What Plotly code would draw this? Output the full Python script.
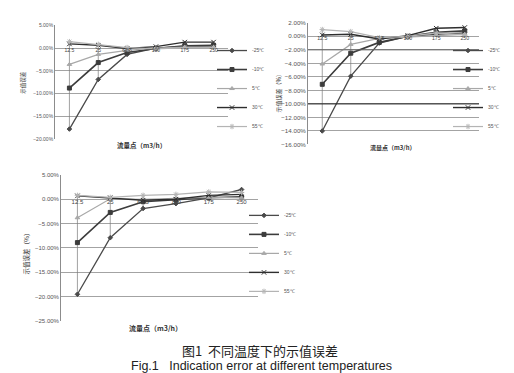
import numpy as np
import plotly.graph_objects as go

W, H = 514, 373

categories = ["12.5", "25", "62.5", "100", "175", "250"]
series_names = ["-25℃", "-10℃", "5℃", "30℃", "55℃"]

# Chart 1 (top-left), error in %
c1_m25 = [-17.8, -6.9, -1.4, 0.0, 0.3, 0.4]
c1_m10 = [-8.8, -3.2, -1.0, -0.1, 0.5, 0.6]
c1_p5 = [-3.6, -1.4, -0.5, 0.0, 0.2, 0.2]
c1_p30 = [0.9, 0.6, -0.1, 0.3, 1.3, 1.3]
c1_p55 = [1.4, 0.8, 0.1, -0.2, 0.1, 0.1]

# Chart 2 (top-right)
c2_m25 = [-14.0, -5.9, -1.0, 0.0, 0.3, 0.5]
c2_m10 = [-7.1, -2.5, -0.9, 0.0, 0.6, 0.8]
c2_p5 = [-4.1, -1.2, -0.3, -0.1, 0.2, 0.3]
c2_p30 = [0.2, 0.3, -0.4, 0.1, 1.2, 1.3]
c2_p55 = [1.0, 0.7, -0.2, 0.0, 0.5, 0.2]

# Chart 3 (bottom-left)
c3_m25 = [-19.5, -7.9, -1.9, -0.9, 0.3, 2.0]
c3_m10 = [-8.9, -2.7, -0.5, -0.1, 0.3, 0.5]
c3_p5 = [-3.8, 0.1, 0.0, 0.2, 0.4, 0.3]
c3_p30 = [0.7, 0.3, -0.2, 0.0, 0.8, 1.0]
c3_p55 = [0.8, 0.4, 0.8, 1.0, 1.5, 1.4]

charts = [
    [c1_m25, c1_m10, c1_p5, c1_p30, c1_p55],
    [c2_m25, c2_m10, c2_p5, c2_p30, c2_p55],
    [c3_m25, c3_m10, c3_p5, c3_p30, c3_p55],
]

styles = [
    dict(color="#4a4a4a", symbol="diamond", size=3.5, width=1.3),
    dict(color="#3c3c3c", symbol="square", size=4, width=1.6),
    dict(color="#a8a8a8", symbol="triangle-up", size=4, width=1.2),
    dict(color="#2e2e2e", symbol="x-thin-open", size=4.5, width=1.4),
    dict(color="#b4b4b4", symbol="asterisk-open", size=4.5, width=1.2),
]


def px_x(p):
    return p / W


def px_y(p):
    return 1 - p / H


# plot areas in pixels: (left, right, top, bottom)
areas = [(47, 220, 13.5, 129.5), (300, 471, 11, 135), (53, 250, 166, 315)]
yranges = [(-20, 5, 5), (-16, 2, 2), (-25, 5, 5)]
tickfs = [5, 6.2, 6]
catfs = [5, 5.2, 6]
legend_pos = [(204, 78), (440, 78), (236, 246)]

fig = go.Figure()
CJK = "Noto Sans CJK SC"
LAT = "Liberation Sans"

for i, data in enumerate(charts):
    n = "" if i == 0 else str(i + 1)
    xa, ya = "x" + n, "y" + n
    lg = "legend" + n
    arr = np.array(data)
    # high-low lines
    hx, hy = [], []
    for j, c in enumerate(categories):
        hx += [c, c, None]
        hy += [arr[:, j].max(), arr[:, j].min(), None]
    fig.add_trace(go.Scatter(x=hx, y=hy, mode="lines", xaxis=xa, yaxis=ya,
                             line=dict(color="#7a7a7a", width=0.7),
                             showlegend=False, hoverinfo="skip"))
    for k, vals in enumerate(data):
        s = styles[k]
        fig.add_trace(go.Scatter(
            x=categories, y=vals, name=series_names[k], mode="lines+markers",
            xaxis=xa, yaxis=ya, legend=lg,
            line=dict(color=s["color"], width=s["width"]),
            marker=dict(symbol=s["symbol"], size=s["size"], color=s["color"],
                        line=dict(color=s["color"], width=1)),
        ))
    # category labels along the zero line
    fig.add_trace(go.Scatter(x=categories, y=[0] * len(categories), text=categories,
                             mode="text", textposition="bottom center",
                             textfont=dict(size=catfs[i], color="#444", family=LAT),
                             xaxis=xa, yaxis=ya, showlegend=False, hoverinfo="skip"))

    l, r, t, b = areas[i]
    lo, hi, dt = yranges[i]
    fig.update_layout({
        "xaxis" + n: dict(domain=[px_x(l), px_x(r)], anchor=ya, type="category",
                          range=[-0.5, 5.5], showticklabels=False, showgrid=False,
                          showline=False, zeroline=False),
        "yaxis" + n: dict(domain=[px_y(b), px_y(t)], anchor=xa, range=[lo, hi],
                          dtick=dt, tick0=0, tickformat=".2f", ticksuffix="%",
                          showgrid=True, gridcolor="#a3a3a3", gridwidth=0.8,
                          showline=True, linecolor="#8c8c8c", linewidth=0.8,
                          zeroline=False, ticks="",
                          tickfont=dict(size=tickfs[i], color="#555", family=LAT)),
        lg: dict(x=px_x(legend_pos[i][0]), y=px_y(legend_pos[i][1]),
                 xanchor="left", yanchor="middle", bgcolor="rgba(0,0,0,0)",
                 font=dict(size=5, color="#555", family=LAT), borderwidth=0,
                 itemwidth=30),
    })

# darker gridlines seen in the second chart
fig.add_shape(type="line", xref="x2 domain", x0=0, x1=1, yref="y2", y0=-10, y1=-10,
              line=dict(color="#222", width=1))
fig.add_shape(type="line", xref="x2 domain", x0=0, x1=1, yref="y2", y0=-2, y1=-2,
              line=dict(color="#666", width=1))

ann = []
# y axis titles
ann.append(dict(text="示值误差", x=px_x(15), y=px_y(72), textangle=-90,
                font=dict(size=5.5, family=CJK, color="#333")))
ann.append(dict(text="示值误差（%）", x=px_x(270), y=px_y(81), textangle=-90,
                font=dict(size=6, family=CJK, color="#333")))
ann.append(dict(text="示值误差（%）", x=px_x(18), y=px_y(245), textangle=-90,
                font=dict(size=6.5, family=CJK, color="#333")))
# x axis titles
ann.append(dict(text="<b>流量点（m3/h）</b>", x=px_x(133), y=px_y(136),
                font=dict(size=6.5, family=CJK, color="#333")))
ann.append(dict(text="<b>流量点（m3/h）</b>", x=px_x(385), y=px_y(138),
                font=dict(size=6, family=CJK, color="#333")))
ann.append(dict(text="<b>流量点（m3/h）</b>", x=px_x(147), y=px_y(322),
                font=dict(size=7, family=CJK, color="#333")))
# caption
ann.append(dict(text="图1  不同温度下的示值误差", x=px_x(252), y=px_y(345),
                font=dict(size=13, family=CJK, color="#222")))
ann.append(dict(text="Fig.1   Indication error at different temperatures", x=px_x(253),
                y=px_y(361), font=dict(size=12.5, family=LAT, color="#222")))
for a in ann:
    a.update(xref="paper", yref="paper", showarrow=False, xanchor="center",
             yanchor="middle", borderpad=0)

fig.update_layout(width=W, height=H, margin=dict(l=0, r=0, t=0, b=0),
                  paper_bgcolor="white", plot_bgcolor="white",
                  annotations=ann, showlegend=True)

fig.write_html("out.html")
